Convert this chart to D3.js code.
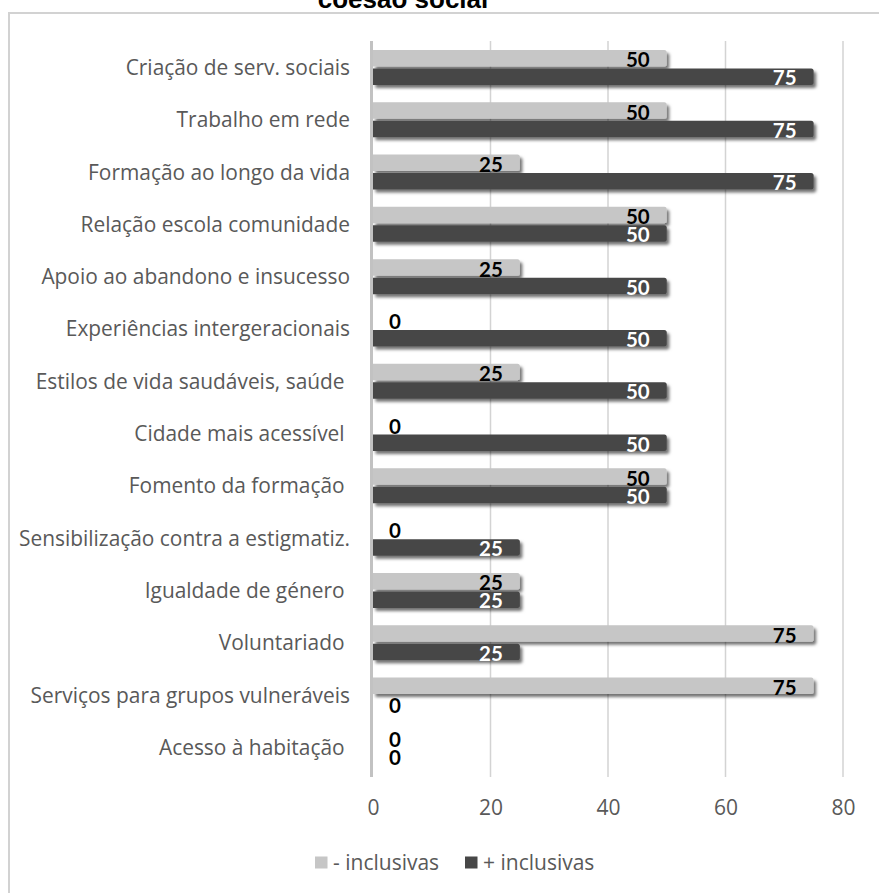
<!DOCTYPE html>
<html>
<head>
<meta charset="utf-8">
<script src="https://cdn.jsdelivr.net/npm/d3@7"></script>
<style>
  html, body { margin: 0; padding: 0; background: #ffffff; }
  svg { display: block; }
  text { white-space: pre; }
</style>
</head>
<body>
<script>
const categories = [
  "Criação de serv. sociais",
  "Trabalho em rede",
  "Formação ao longo da vida",
  "Relação escola comunidade",
  "Apoio ao abandono e insucesso",
  "Experiências intergeracionais",
  "Estilos de vida saudáveis, saúde ",
  "Cidade mais acessível ",
  "Fomento da formação ",
  "Sensibilização contra a estigmatiz.",
  "Igualdade de género ",
  "Voluntariado ",
  "Serviços para grupos vulneráveis",
  "Acesso à habitação "
];
const menosInclusivas = [50, 50, 25, 50, 25, 0, 25, 0, 50, 0, 25, 75, 75, 0];
const maisInclusivas  = [75, 75, 75, 50, 50, 50, 50, 50, 50, 25, 25, 25, 0, 0];
const seriesNames = ["- inclusivas", "+ inclusivas"];
const seriesColors = ["#c6c6c6", "#474747"];
const xTicks = [0, 20, 40, 60, 80];
const titleText = "coesão social";

const W = 879, H = 893;
const svg = d3.select("body").append("svg").attr("width", W).attr("height", H);

const defs = svg.append("defs");
const f = defs.append("filter").attr("id", "shadow")
  .attr("x", "-5%").attr("y", "-40%").attr("width", "115%").attr("height", "200%");
f.append("feDropShadow").attr("dx", 2.5).attr("dy", 3).attr("stdDeviation", 1.6)
  .attr("flood-color", "#000").attr("flood-opacity", 0.55);

// chart frame
svg.append("rect").attr("x", 9).attr("y", 13).attr("width", W + 20).attr("height", H + 20)
  .attr("fill", "none").attr("stroke", "#d2d2d2").attr("stroke-width", 2);

// title (partially cut, as in the reference)
svg.append("text").attr("x", 403).attr("y", 7.5).attr("text-anchor", "middle")
  .attr("font-family", "Liberation Sans, Arial, sans-serif").attr("font-weight", "bold")
  .attr("font-size", 26).attr("fill", "#000").text(titleText);

const x = d3.scaleLinear().domain([0, 80]).range([373, 843]);
const y = d3.scaleBand().domain(categories).range([41.3, 773.5]).paddingInner(0).paddingOuter(0);

// gridlines
svg.append("g").selectAll("line").data(xTicks.filter(d => d > 0)).join("line")
  .attr("x1", d => x(d)).attr("x2", d => x(d))
  .attr("y1", 41).attr("y2", 777)
  .attr("stroke", "#d3d3d3").attr("stroke-width", 1.5);

// x axis tick labels
const xAxis = d3.axisBottom(x).tickValues(xTicks).tickSize(0).tickPadding(0);
const gx = svg.append("g").attr("transform", "translate(0,799.5)").call(xAxis);
gx.select(".domain").remove();
gx.selectAll("text").attr("font-family", "Open Sans, sans-serif").attr("font-size", 21)
  .attr("fill", "#595959").attr("dy", "0.72em");

// category labels
const yAxis = d3.axisLeft(y).tickSize(0).tickPadding(0);
const gy = svg.append("g").attr("transform", "translate(350,0)").call(yAxis);
gy.select(".domain").remove();
gy.selectAll("text").attr("font-family", "Open Sans, sans-serif").attr("font-size", 20.9)
  .attr("fill", "#595959").attr("dy", "0.36em");

// bars
const barH = 16.5;
const bandMid = i => y(categories[i]) + y.bandwidth() / 2;
const data = [];
categories.forEach((c, i) => {
  data.push({ i, s: 0, v: menosInclusivas[i], y0: bandMid(i) - 17.5 });
  data.push({ i, s: 1, v: maisInclusivas[i], y0: bandMid(i) + 1 });
});

function barPath(d) {
  const x0 = x(0), x1 = x(d.v), y0 = d.y0, y1 = d.y0 + barH, r = 2.5;
  if (x1 - x0 < r) return "";
  return `M${x0},${y0}H${x1 - r}Q${x1},${y0} ${x1},${y0 + r}V${y1 - r}Q${x1},${y1} ${x1 - r},${y1}H${x0}Z`;
}

svg.append("g").selectAll("path").data(data.filter(d => d.v > 0)).join("path")
  .attr("d", barPath)
  .attr("fill", d => seriesColors[d.s])
  .attr("filter", "url(#shadow)");

// axis line at 0
svg.append("line").attr("x1", x(0) - 1.5).attr("x2", x(0) - 1.5).attr("y1", 41).attr("y2", 777)
  .attr("stroke", "#c2c2c2").attr("stroke-width", 3);

// value labels
svg.append("g").selectAll("text").data(data).join("text")
  .attr("font-family", "Lato, sans-serif").attr("font-weight", "bold").attr("font-size", 20.5)
  .attr("x", d => d.v === 0 ? x(0) + 16 : x(d.v) - 17)
  .attr("y", d => d.y0 + barH + (d.s === 0 ? 1 : 0.5))
  .attr("text-anchor", d => d.v === 0 ? "start" : "end")
  .attr("fill", d => (d.s === 1 && d.v > 0) ? "#ffffff" : "#000000")
  .text(d => d.v);

// legend
const legendX = [315, 465];
const lg = svg.append("g").selectAll("g").data(seriesNames).join("g")
  .attr("transform", (d, i) => `translate(${legendX[i]},856.5)`);
lg.append("rect").attr("width", 12.5).attr("height", 12).attr("fill", (d, i) => seriesColors[i]);
lg.append("text").attr("x", 18).attr("y", 13).attr("font-family", "Open Sans, sans-serif")
  .attr("font-size", 21).attr("fill", "#595959").text(d => d);
</script>
</body>
</html>
